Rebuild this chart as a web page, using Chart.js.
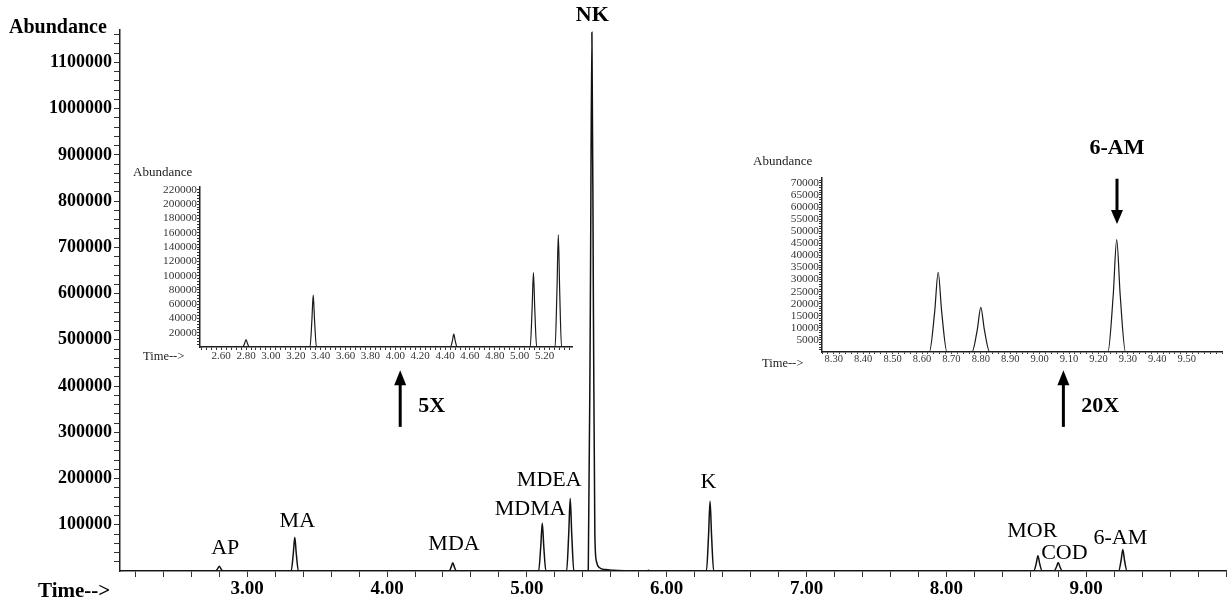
<!DOCTYPE html>
<html><head><meta charset="utf-8">
<script src="https://cdn.jsdelivr.net/npm/chart.js@4.4.1/dist/chart.umd.min.js"></script>
<style>
html,body{margin:0;padding:0;background:#fff;}
#wrap{position:relative;width:1232px;height:599px;overflow:hidden;background:#fff;}
canvas{position:absolute;}
</style></head><body>
<div id="wrap">
<canvas id="main" width="1232" height="599" style="left:0;top:0"></canvas>
<canvas id="in1" width="460" height="215" style="left:120px;top:160px"></canvas>
<canvas id="in2" width="492" height="255" style="left:740px;top:120px"></canvas>
</div>
<script>
// ---- data ----
const traceTime = [
 2.09,
 2.774, 2.789, 2.800, 2.811, 2.826,
 3.314, 3.329, 3.340, 3.351, 3.366,
 4.444, 4.459, 4.470, 4.481, 4.496,
 5.084, 5.099, 5.110, 5.121, 5.136,
 5.284, 5.299, 5.310, 5.321, 5.336,
 5.439, 5.454, 5.465, 5.476, 5.486, 5.498, 5.520, 5.560, 5.620, 5.700, 5.780,
 5.860, 5.870, 5.880,
 6.284, 6.299, 6.310, 6.321, 6.336,
 8.625, 8.643, 8.655, 8.667, 8.685,
 8.770, 8.788, 8.800, 8.812, 8.830,
 9.232, 9.250, 9.262, 9.274, 9.292,
 10.0
];
const traceAbund = [
 0,
 0, 5200, 10500, 5200, 0,
 0, 36500, 73000, 36500, 0,
 0, 9000, 18000, 9000, 0,
 0, 52000, 104000, 52000, 0,
 0, 78500, 157000, 78500, 0,
 0, 582000, 1165000, 560000, 80000, 20000, 7000, 3000, 1500, 500, 0,
 0, 1800, 0,
 0, 75500, 151000, 75500, 0,
 0, 16500, 33000, 16500, 0,
 0, 9250, 18500, 9250, 0,
 0, 23250, 46500, 23250, 0,
 0
];
const peakNames = ['AP','MA','MDA','MDMA','MDEA','NK','K','MOR','COD','6-AM'];

const mainXLabels = [3,4,5,6,7,8,9];
const mainYLabels = [100000,200000,300000,400000,500000,600000,700000,800000,900000,1000000,1100000];
const in1XLabels = [2.6,2.8,3.0,3.2,3.4,3.6,3.8,4.0,4.2,4.4,4.6,4.8,5.0,5.2];
const in1YLabels = [20000,40000,60000,80000,100000,120000,140000,160000,180000,200000,220000];
const in2XLabels = [8.3,8.4,8.5,8.6,8.7,8.8,8.9,9.0,9.1,9.2,9.3,9.4,9.5];
const in2YLabels = [5000,10000,15000,20000,25000,30000,35000,40000,45000,50000,55000,60000,65000,70000];

// ---- annotation placement (data coordinates of label centres) ----
const labelPos = {
 'AP':[2.843,48200,false], 'MA':[3.358,108600,false], 'MDA':[4.479,59000,false],
 'MDMA':[5.024,134600,false], 'MDEA':[5.160,197200,false], 'NK':[5.468,1201500,true],
 'K':[6.298,192900,false], 'MOR':[8.615,87000,false], 'COD':[8.844,37400,false],
 '6-AM':[9.245,71900,false]
};

const points = traceTime.map((t,i)=>({x:t, y:traceAbund[i]}));
const SERIF = "'Liberation Serif', 'Times New Roman', serif";

function stepTicks(from, to, step, dec){
  const out=[]; const n=Math.round((to-from)/step);
  for(let i=0;i<=n;i++){ out.push({value: +(from+i*step).toFixed(dec)}); }
  return out;
}
function has(arr, v){ return arr.some(a=>Math.abs(a-v)<1e-6); }

function drawArrow(ctx, x, yTail, yHead, headLen, headW, lw){
  const dir = yHead < yTail ? -1 : 1;
  ctx.save();
  ctx.strokeStyle='#000'; ctx.fillStyle='#000'; ctx.lineWidth=lw;
  ctx.beginPath(); ctx.moveTo(x,yTail); ctx.lineTo(x,yHead - dir*headLen*0.6); ctx.stroke();
  ctx.beginPath(); ctx.moveTo(x,yHead); ctx.lineTo(x-headW/2,yHead-dir*headLen); ctx.lineTo(x+headW/2,yHead-dir*headLen); ctx.closePath(); ctx.fill();
  ctx.restore();
}

const mainAnno = {
  id:'mainAnno',
  afterDraw(chart){
    const ctx=chart.ctx, xs=chart.scales.x, ys=chart.scales.y;
    ctx.save();
    ctx.fillStyle='#000';
    ctx.font='bold 20px '+SERIF; ctx.textAlign='left'; ctx.textBaseline='alphabetic';
    ctx.fillText('Abundance', 9, 33);
    ctx.font='bold 21px '+SERIF;
    ctx.fillText('Time-->', 38, 597);
    ctx.textAlign='center'; ctx.textBaseline='middle';
    peakNames.forEach(n=>{
      const p=labelPos[n];
      ctx.font=(p[2]?'bold ':'')+'22px '+SERIF;
      ctx.fillText(n, xs.getPixelForValue(p[0]), ys.getPixelForValue(p[1]));
    });
    // magnification arrows
    drawArrow(ctx, xs.getPixelForValue(4.094), ys.getPixelForValue(311700), ys.getPixelForValue(434000), 15, 12, 3);
    drawArrow(ctx, xs.getPixelForValue(8.837), ys.getPixelForValue(311700), ys.getPixelForValue(434000), 15, 12, 3);
    ctx.font='bold 22px '+SERIF; ctx.textAlign='left';
    ctx.fillText('5X', xs.getPixelForValue(4.223), ys.getPixelForValue(357000));
    ctx.fillText('20X', xs.getPixelForValue(8.965), ys.getPixelForValue(357000));
    ctx.restore();
  }
};

function axisCommon(tl){
  return {
    grid:{display:true, drawOnChartArea:false, drawTicks:true, tickLength:tl, color:'#333', tickColor:'#333', tickWidth:1},
    border:{display:true, color:'#222', width:1.5}
  };
}

new Chart(document.getElementById('main'), {
  type:'line',
  data:{datasets:[{data:points, borderColor:'#111', borderWidth:1.5, pointRadius:0, cubicInterpolationMode:'monotone', fill:false}]},
  options:{
    responsive:false, animation:false, devicePixelRatio:1,
    layout:{padding:{left:0,right:6,top:30,bottom:0}},
    plugins:{legend:{display:false}, tooltip:{enabled:false}},
    scales:{
      x:Object.assign({type:'linear', min:2.09, max:10.0,
        afterBuildTicks:s=>{ s.ticks = stepTicks(2.2,10.0,0.2,1); },
        afterFit:s=>{ s.height=28; },
        ticks:{autoSkip:false, maxRotation:0, minRotation:0, padding:1, color:'#000',
          font:{family:SERIF, size:19, weight:'bold'},
          callback:v=> has(mainXLabels,v) ? v.toFixed(2) : ''}
      }, axisCommon(6)),
      y:Object.assign({type:'linear', min:0, max:1170000,
        afterBuildTicks:s=>{ s.ticks = stepTicks(20000,1160000,20000,0); },
        afterFit:s=>{ s.width=120; },
        ticks:{autoSkip:false, padding:2, color:'#000',
          font:{family:SERIF, size:18, weight:'bold'},
          callback:v=> has(mainYLabels,v) ? String(v) : ''}
      }, axisCommon(6))
    }
  },
  plugins:[mainAnno]
});

// ---- inset 1 (5X) ----
const in1Anno = {
  id:'in1Anno',
  afterDraw(chart){
    const ctx=chart.ctx;
    ctx.save(); ctx.fillStyle='#222';
    ctx.font='13px '+SERIF; ctx.textAlign='left'; ctx.textBaseline='middle';
    ctx.fillText('Abundance', 13, 13);
    ctx.font='12.5px '+SERIF;
    ctx.fillText('Time-->', 23, 197);
    ctx.restore();
  }
};
new Chart(document.getElementById('in1'), {
  type:'line',
  data:{datasets:[{data:points, borderColor:'#1a1a1a', borderWidth:1.2, pointRadius:0, cubicInterpolationMode:'monotone', fill:false}]},
  options:{
    responsive:false, animation:false, devicePixelRatio:1,
    layout:{padding:{left:0,right:8,top:27,bottom:0}},
    plugins:{legend:{display:false}, tooltip:{enabled:false}},
    scales:{
      x:Object.assign({type:'linear', min:2.43, max:5.42,
        afterBuildTicks:s=>{ s.ticks = stepTicks(2.44,5.40,0.04,2); },
        afterFit:s=>{ s.height=28; },
        ticks:{autoSkip:false, maxRotation:0, minRotation:0, padding:0, color:'#333',
          font:{family:SERIF, size:11},
          callback:v=> has(in1XLabels,v) ? v.toFixed(2) : ''}
      }, axisCommon(3)),
      y:Object.assign({type:'linear', min:0, max:224000,
        afterBuildTicks:s=>{ s.ticks = stepTicks(4000,220000,4000,0); },
        afterFit:s=>{ s.width=80; },
        ticks:{autoSkip:false, padding:0, color:'#333',
          font:{family:SERIF, size:11.3},
          callback:v=> has(in1YLabels,v) ? String(v) : ''}
      }, axisCommon(3))
    }
  },
  plugins:[in1Anno]
});

// ---- inset 2 (20X) ----
const in2Anno = {
  id:'in2Anno',
  afterDraw(chart){
    const ctx=chart.ctx, xs=chart.scales.x, ys=chart.scales.y;
    ctx.save(); ctx.fillStyle='#222';
    ctx.font='13px '+SERIF; ctx.textAlign='left'; ctx.textBaseline='middle';
    ctx.fillText('Abundance', 13, 42);
    ctx.font='12.5px '+SERIF;
    ctx.fillText('Time-->', 22, 244);
    ctx.fillStyle='#000';
    ctx.font='bold 22px '+SERIF; ctx.textAlign='center';
    ctx.fillText('6-AM', xs.getPixelForValue(9.263), ys.getPixelForValue(84400));
    drawArrow(ctx, xs.getPixelForValue(9.263), ys.getPixelForValue(71700), ys.getPixelForValue(53000), 14, 12, 3);
    ctx.restore();
  }
};
new Chart(document.getElementById('in2'), {
  type:'line',
  data:{datasets:[{data:points, borderColor:'#1a1a1a', borderWidth:1.2, pointRadius:0, cubicInterpolationMode:'monotone', fill:false}]},
  options:{
    responsive:false, animation:false, devicePixelRatio:1,
    layout:{padding:{left:0,right:10,top:58,bottom:0}},
    plugins:{legend:{display:false}, tooltip:{enabled:false}},
    scales:{
      x:Object.assign({type:'linear', min:8.26, max:9.62,
        afterBuildTicks:s=>{ s.ticks = stepTicks(8.26,9.62,0.02,2); },
        afterFit:s=>{ s.height=23; },
        ticks:{autoSkip:false, maxRotation:0, minRotation:0, padding:-1, color:'#333',
          font:{family:SERIF, size:10.5},
          callback:v=> has(in2XLabels,v) ? v.toFixed(2) : ''}
      }, axisCommon(2)),
      y:Object.assign({type:'linear', min:0, max:72000,
        afterBuildTicks:s=>{ s.ticks = stepTicks(1000,71000,1000,0); },
        afterFit:s=>{ s.width=82; },
        ticks:{autoSkip:false, padding:0, color:'#333',
          font:{family:SERIF, size:11.3},
          callback:v=> has(in2YLabels,v) ? String(v) : ''}
      }, axisCommon(3))
    }
  },
  plugins:[in2Anno]
});
</script>
</body></html>
